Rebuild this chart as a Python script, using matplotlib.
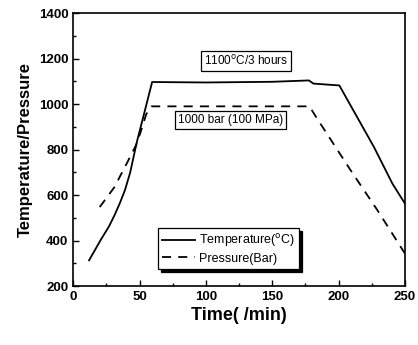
import matplotlib.pyplot as plt
from matplotlib.ticker import MultipleLocator

plt.rcParams['font.family'] = ['Liberation Sans', 'DejaVu Sans']

# temperature profile (deg C) vs time (min)
temp_time = [12, 21, 27, 31.3, 35, 39, 43, 48, 53.4, 59.5, 100, 150, 177.6, 181, 200.5, 226.6, 240.5, 250]
temp_vals = [313, 405, 462, 513, 562, 621, 700, 834, 957, 1097, 1095, 1098, 1104, 1090, 1082, 811, 650, 562]

# pressure profile (bar) vs time (min)
pres_time = [20, 31, 41, 47.5, 51, 55, 59, 100, 150, 178, 183, 209, 229, 250]
pres_vals = [547, 634, 746, 821, 880, 955, 990, 990, 990, 990, 943, 709, 535, 342]

fig = plt.figure(figsize=(4.18, 3.45), dpi=100)
ax = fig.add_axes([0.175, 0.171, 0.794, 0.791])

ax.plot(temp_time, temp_vals, color='black', lw=1.3, label='Temperature($^{\\rm o}$C)')
ax.plot(pres_time, pres_vals, color='black', lw=1.3, ls=(0, (5, 4)), label='Pressure(Bar)')

ax.set_xlim(0, 250)
ax.set_ylim(200, 1400)
ax.xaxis.set_major_locator(MultipleLocator(50))
ax.xaxis.set_minor_locator(MultipleLocator(25))
ax.yaxis.set_major_locator(MultipleLocator(200))
ax.yaxis.set_minor_locator(MultipleLocator(100))
ax.tick_params(which='both', direction='in', top=False, right=False, width=1)
ax.tick_params(which='major', length=4, labelsize=9.5)
ax.tick_params(which='minor', length=2)
for lab in ax.get_xticklabels() + ax.get_yticklabels():
    lab.set_fontweight('bold')
for sp in ax.spines.values():
    sp.set_linewidth(1.2)

ax.set_xlabel('Time( /min)', fontsize=13, fontweight='bold', labelpad=3)
ax.set_ylabel('Temperature/Pressure', fontsize=12, fontweight='bold', labelpad=4)

box = dict(boxstyle='square,pad=0.25', facecolor='white', edgecolor='black', lw=0.9)
ax.text(130, 1189, '1100$^{\\rm o}$C/3 hours', fontsize=8.5, ha='center', va='center', bbox=box)
ax.text(118.5, 928, '1000 bar (100 MPa)', fontsize=8.5, ha='center', va='center', bbox=box)

leg = ax.legend(loc='upper left', bbox_to_anchor=(0.237, 0.235), fontsize=9,
                frameon=True, fancybox=False, shadow={'color': 'black', 'alpha': 1},
                handlelength=2.6, handletextpad=0.3, borderpad=0.35, labelspacing=0.25)
leg.get_frame().set_edgecolor('black')
leg.get_frame().set_linewidth(0.9)

fig.savefig('out.png', dpi=100)
